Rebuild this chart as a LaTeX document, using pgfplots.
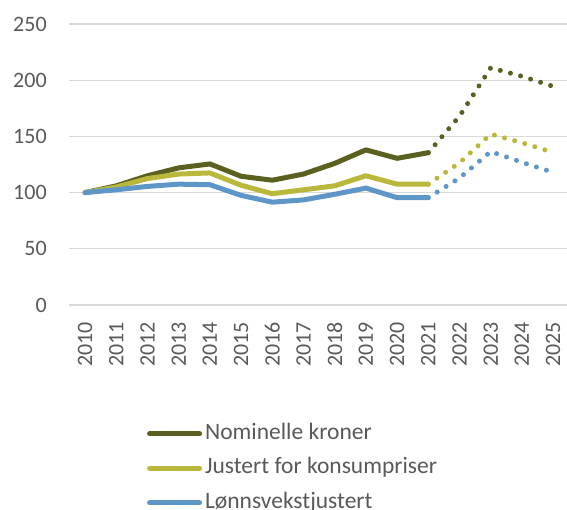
\documentclass[border=0pt]{standalone}
\usepackage{pgfplots}
\pgfplotsset{compat=1.18}
\usepackage{fontspec}
\setmainfont{Carlito}
\definecolor{nom}{HTML}{5B5F1F}
\definecolor{kpi}{HTML}{B9B73C}
\definecolor{lonn}{HTML}{5E96C7}
\definecolor{txtgray}{HTML}{595959}
\definecolor{gridgray}{HTML}{D9D9D9}
\begin{document}
\fontsize{22}{26}\selectfont
\begin{tikzpicture}
\begin{axis}[
  scale only axis, width=499.2pt, height=281pt,
  xmin=2009.5, xmax=2025.5, ymin=0, ymax=250,
  xtick={2010,2011,...,2025}, ytick={0,50,...,250},
  /pgf/number format/assume math mode=true,
  /pgf/number format/1000 sep={},
  major tick length=0pt,
  axis line style={draw=none},
  ymajorgrids, grid style={line width=1.3pt, gridgray},
  tick label style={font=\fontsize{22}{26}\selectfont, text=txtgray, inner sep=0pt},
  xticklabel style={rotate=90, anchor=east},
  yticklabel style={anchor=east},
  xticklabel shift=17pt, yticklabel shift=22.6pt,
  legend style={at={(0.149,-0.41)}, anchor=north west, draw=none, fill=none,
    font=\fontsize{23.5}{27}\selectfont, text=txtgray, row sep=11.5pt,
    nodes={inner sep=0pt, text height=17pt, text depth=6pt}},
  legend cell align=left,
  legend image code/.code={\draw[#1, line cap=round] (0pt,0pt) -- (50pt,0pt);},
  every axis plot/.append style={line width=5pt, line join=round, line cap=round},
]
\addplot[nom] coordinates {(2010,100) (2011,106) (2012,115) (2013,122) (2014,125.5) (2015,114.5) (2016,111) (2017,116.5) (2018,126) (2019,138) (2020,130.5) (2021,135.5)};
\addlegendentry{\hspace{3pt}Nominelle kroner}
\addplot[kpi] coordinates {(2010,100) (2011,105) (2012,112.5) (2013,116.5) (2014,117.5) (2015,106.5) (2016,99) (2017,102.5) (2018,106) (2019,115) (2020,107.5) (2021,107.5)};
\addlegendentry{\hspace{3pt}Justert for konsumpriser}
\addplot[lonn] coordinates {(2010,100) (2011,102.5) (2012,105.5) (2013,107.5) (2014,107) (2015,97.5) (2016,91.5) (2017,93.5) (2018,98.5) (2019,104) (2020,95.5) (2021,95.5)};
\addlegendentry{\hspace{3pt}Lønnsvekstjustert}
\addplot[nom, dash pattern=on 0pt off 10.5pt, forget plot] coordinates {(2021,135.5) (2022,168) (2023,211) (2024,203.5) (2025,194.5)};
\addplot[kpi, dash pattern=on 0pt off 10.5pt, forget plot] coordinates {(2021,107.5) (2022,126.5) (2023,152) (2024,144.4) (2025,135.7)};
\addplot[lonn, dash pattern=on 0pt off 10.5pt, forget plot] coordinates {(2021,95.5) (2022,113) (2023,136.5) (2024,127) (2025,118)};
\end{axis}
\pgfresetboundingbox
\path[use as bounding box] (-69.5pt,-205pt) rectangle (497.5pt,305pt);
\end{tikzpicture}
\end{document}
